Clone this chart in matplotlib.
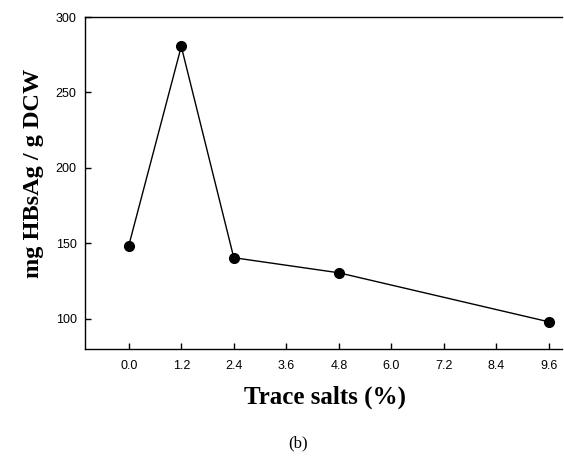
import matplotlib
matplotlib.use("Agg")
import matplotlib.pyplot as plt

trace_salts = [0.0, 1.2, 2.4, 4.8, 9.6]
hbsag = [148.5, 280.5, 140.5, 130.5, 98]
x_ticks = [0.0, 1.2, 2.4, 3.6, 4.8, 6.0, 7.2, 8.4, 9.6]
y_ticks = [100, 150, 200, 250, 300]

fig = plt.figure(figsize=(5.64, 4.57), dpi=100)
ax = fig.add_axes([85/564, 1-349/457, 477/564, 332/457])

ax.plot(trace_salts, hbsag, color='black', lw=1.0, marker='o', ms=7, mfc='black', mec='black')

ax.set_xlim(-1.0, 9.9)
ax.set_ylim(80, 300)
ax.set_xticks(x_ticks)
ax.set_xticklabels(['%.1f' % v for v in x_ticks])
ax.set_yticks(y_ticks)
ax.spines['right'].set_visible(False)
for s in ['left', 'bottom', 'top']:
    ax.spines[s].set_linewidth(1.0)
ax.tick_params(direction='in', length=4, width=1, labelsize=9)
ax.tick_params(axis='x', pad=8)
ax.tick_params(axis='y', pad=6)
for lab in ax.get_xticklabels() + ax.get_yticklabels():
    lab.set_family('Liberation Sans')

ax.set_ylabel('mg HBsAg / g DCW', family='Liberation Serif', fontweight='bold', fontsize=17.5)
ax.yaxis.set_label_coords(-41/477, (349-173)/332)
ax.set_xlabel('Trace salts (%)', family='Liberation Serif', fontweight='bold', fontsize=18)
ax.xaxis.set_label_coords((325-85)/477, -(386-349)/332)
fig.text(298/564, 1-443/457, '(b)', family='Liberation Serif', fontsize=12, ha='center', va='center')

fig.savefig('out.png', dpi=100)
